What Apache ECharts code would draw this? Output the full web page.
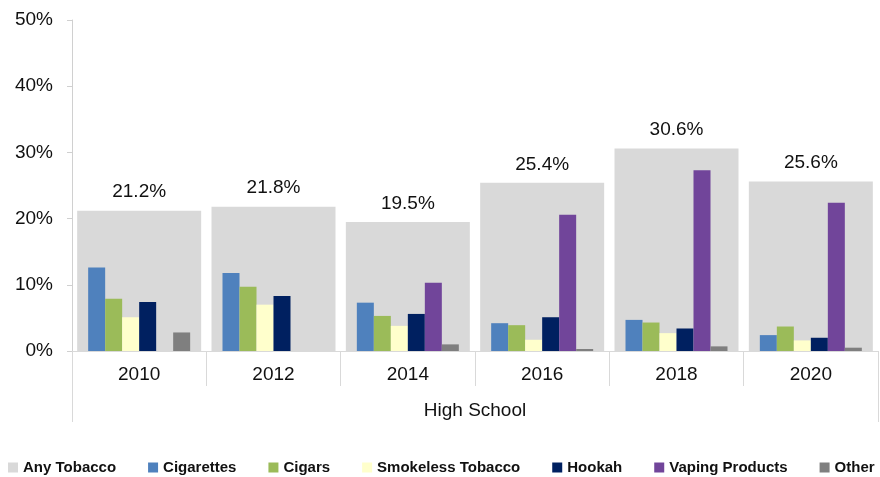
<!DOCTYPE html>
<html>
<head>
<meta charset="utf-8">
<script src="https://cdn.jsdelivr.net/npm/echarts@6/dist/echarts.min.js"></script>
<style>html,body{margin:0;padding:0;background:#fff}#c{width:880px;height:477px}</style>
</head>
<body>
<div id="c"></div>
<script>
var years = ['2010', '2012', '2014', '2016', '2018', '2020'];
var groupLabel = ['High School'];
var anyTobacco = [21.2, 21.8, 19.5, 25.4, 30.6, 25.6];
var cigarettes = [12.6, 11.8, 7.3, 4.2, 4.7, 2.4];
var cigars = [7.9, 9.7, 5.3, 3.9, 4.3, 3.7];
var smokeless = [5.1, 7.0, 3.8, 1.7, 2.7, 1.6];
var hookah = [7.4, 8.3, 5.6, 5.1, 3.4, 2.0];
var vaping = [null, null, 10.3, 20.6, 27.3, 22.4];
var other = [2.8, null, 1.0, 0.3, 0.7, 0.5];
var yTicks = [0, 10, 20, 30, 40, 50];

var chart = echarts.init(document.getElementById('c'));
var FONT = '"Liberation Sans", Arial, sans-serif';
var subSeries = [
  {name: 'Cigarettes', data: cigarettes, color: '#4F81BD'},
  {name: 'Cigars', data: cigars, color: '#9BBB59'},
  {name: 'Smokeless Tobacco', data: smokeless, color: '#FFFFCC'},
  {name: 'Hookah', data: hookah, color: '#002060'},
  {name: 'Vaping Products', data: vaping, color: '#71459A'},
  {name: 'Other', data: other, color: '#7F7F7F'}
];
var series = [{
  name: 'Any Tobacco', type: 'bar', xAxisIndex: 1, data: anyTobacco,
  barWidth: 124, itemStyle: {color: '#D9D9D9'}, z: 1,
  label: {show: true, position: 'top', distance: 9, formatter: '{c}%',
    fontSize: 19, color: '#111', fontFamily: FONT}
}];
subSeries.forEach(function (s) {
  series.push({name: s.name, type: 'bar', xAxisIndex: 0, data: s.data,
    barWidth: 17, barGap: '0%', itemStyle: {color: s.color}, z: 3});
});

chart.setOption({
  animation: false,
  textStyle: {fontFamily: FONT},
  color: ['#D9D9D9', '#4F81BD', '#9BBB59', '#FFFFCC', '#002060', '#71459A', '#7F7F7F'],
  grid: {left: 72, right: 2, top: 20, bottom: 126},
  legend: {
    left: 8, top: 460, padding: 0, itemWidth: 10, itemHeight: 10, itemGap: 32,
    icon: 'rect',
    textStyle: {fontFamily: FONT, fontWeight: 'bold', fontSize: 15, color: '#111'},
    data: ['Any Tobacco', 'Cigarettes', 'Cigars', 'Smokeless Tobacco', 'Hookah', 'Vaping Products', 'Other']
  },
  xAxis: [{
    type: 'category', data: years, position: 'bottom',
    axisLine: {show: true, lineStyle: {color: '#D9D9D9'}},
    axisTick: {show: true, length: 35, interval: 0, lineStyle: {color: '#D9D9D9'}},
    axisLabel: {margin: 14, fontSize: 19, color: '#111', fontFamily: FONT}
  }, {
    type: 'category', data: years, show: false
  }, {
    type: 'category', data: groupLabel, position: 'bottom',
    axisLine: {show: false},
    axisTick: {show: true, length: 71, interval: 0, lineStyle: {color: '#D9D9D9'}},
    axisLabel: {margin: 50, fontSize: 19, color: '#111', fontFamily: FONT}
  }],
  yAxis: {
    type: 'value', min: yTicks[0], max: yTicks[yTicks.length - 1], interval: 10,
    axisLine: {show: true, lineStyle: {color: '#D0D0D0'}},
    axisTick: {show: true, length: 5, lineStyle: {color: '#D0D0D0'}},
    splitLine: {show: false},
    axisLabel: {margin: 19, fontSize: 19, color: '#111', formatter: '{value}%', fontFamily: FONT}
  },
  series: series
});
</script>
</body>
</html>
